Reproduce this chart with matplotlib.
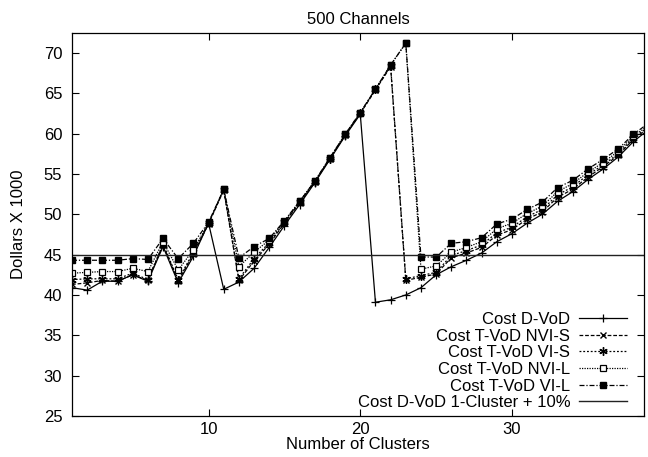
import matplotlib
matplotlib.use("Agg")
import matplotlib.pyplot as plt

plt.rcParams['font.family'] = ['Liberation Sans', 'DejaVu Sans']

clusters = list(range(1, 40))

cost_dvod = [40.9, 40.6, 41.7, 41.7, 42.5, 41.7, 46.0, 41.5, 44.8, 48.9,
             40.7, 41.6, 43.3, 45.9, 48.6, 51.2, 53.9, 56.8, 59.7, 62.4,
             39.1, 39.4, 40.0, 40.9, 42.5, 43.5, 44.3, 45.2, 46.6, 47.6,
             48.9, 50.0, 51.6, 52.8, 54.3, 55.6, 57.1, 59.0, 60.5]
cost_nvi_s = [41.3, 41.5, 41.8, 41.7, 42.5, 41.8, 46.2, 41.7, 45.1, 48.8,
              53.0, 41.8, 44.2, 46.3, 48.9, 51.4, 54.0, 56.9, 59.8, 62.5,
              65.4, 68.3, 41.8, 42.2, 42.6, 44.6, 45.2, 45.9, 47.4, 48.1,
              49.4, 50.3, 52.1, 53.1, 54.6, 55.9, 57.3, 59.3, 60.7]
cost_vi_s = [41.9, 42.0, 42.0, 42.0, 42.7, 41.9, 46.3, 41.9, 45.3, 48.9,
             53.0, 42.0, 44.5, 46.5, 49.0, 51.5, 54.0, 56.9, 59.8, 62.5,
             65.5, 68.4, 42.0, 42.4, 42.8, 44.9, 45.5, 46.2, 47.7, 48.4,
             49.7, 50.6, 52.4, 53.4, 54.9, 56.1, 57.5, 59.5, 60.8]
cost_nvi_l = [42.7, 42.8, 42.9, 42.9, 43.3, 42.9, 46.6, 43.1, 45.6, 48.9,
              53.1, 43.5, 45.3, 46.8, 49.1, 51.6, 54.1, 57.0, 59.9, 62.6,
              65.5, 68.5, 71.2, 43.2, 43.6, 45.3, 45.9, 46.6, 48.2, 48.9,
              50.1, 51.0, 52.8, 53.8, 55.2, 56.4, 57.8, 59.7, 61.0]
cost_vi_l = [44.3, 44.3, 44.3, 44.3, 44.5, 44.4, 47.0, 44.5, 46.4, 49.0,
             53.1, 44.6, 46.0, 47.0, 49.2, 51.6, 54.1, 57.0, 59.9, 62.6,
             65.5, 68.5, 71.2, 44.7, 44.7, 46.4, 46.6, 47.1, 48.8, 49.4,
             50.6, 51.5, 53.3, 54.2, 55.6, 56.8, 58.1, 59.9, 61.3]
one_cluster_plus10 = [45.0] * len(clusters)

labels = ["Cost D-VoD", "Cost T-VoD NVI-S", "Cost T-VoD VI-S",
          "Cost T-VoD NVI-L", "Cost T-VoD VI-L", "Cost D-VoD 1-Cluster + 10%"]

FS = 12
fig = plt.figure(figsize=(6.48, 4.57), dpi=100)
ax = fig.add_axes([72/648, 1-416/457, (644-72)/648, (416-32.7)/457])

lw = 0.9
ms = 4.5
ax.plot(clusters, cost_dvod, color='black', lw=lw, ls='-', marker='+', ms=6, mew=0.9, label=labels[0])
ax.plot(clusters, cost_nvi_s, color='black', lw=lw, ls=(0, (3, 1.5)), marker='x', ms=4.5, mew=1.0, label=labels[1])
ax.plot(clusters, cost_vi_s, color='black', lw=lw, ls=(0, (1.5, 1.5)), marker=(6, 2, 0), ms=6, mew=1.0, label=labels[2])
ax.plot(clusters, cost_nvi_l, color='black', lw=lw, ls=(0, (1, 1)), marker='s', ms=ms, mfc='white', mew=0.9, label=labels[3])
ax.plot(clusters, cost_vi_l, color='black', lw=lw, ls=(0, (4, 1.5, 1, 1.5)), marker='s', ms=ms, mfc='black', label=labels[4])
ax.plot(clusters, one_cluster_plus10, color='#222222', lw=1.0, ls='-', label=labels[5])

ax.set_xlim(1, 38.7)
ax.set_ylim(25, 72.5)
ax.set_xticks([10, 20, 30])
ax.set_yticks(list(range(25, 71, 5)))
ax.tick_params(direction='in', length=5, width=0.8, top=True, right=True, labelsize=FS)
ax.tick_params(axis='y', pad=7)
ax.tick_params(axis='x', pad=4)
for s in ax.spines.values():
    s.set_linewidth(0.9)

ax.set_title("500 Channels", fontsize=FS, pad=6)
ax.set_xlabel("Number of Clusters", fontsize=FS, labelpad=0)
ax.set_ylabel("Dollars X 1000", fontsize=FS, labelpad=13)

leg = ax.legend(loc='lower right', bbox_to_anchor=(0.970, 0.015), markerfirst=False, frameon=False,
                fontsize=FS, handlelength=2.9, labelspacing=0.1, handletextpad=0.5,
                borderaxespad=0.0, borderpad=0.0)

fig.savefig("out.png", dpi=100)
